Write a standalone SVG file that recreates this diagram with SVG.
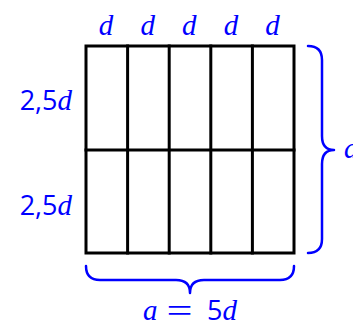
<svg xmlns="http://www.w3.org/2000/svg" width="353" height="324" viewBox="0 0 353 324">
<style>
.grid{fill:none;stroke:#000;stroke-width:3;stroke-linecap:square}
.brace{fill:none;stroke:#0000ff;stroke-width:2.5;stroke-linecap:round;stroke-linejoin:round}
.t{fill:#0000ff;font-family:"Liberation Serif","DejaVu Serif",serif;font-size:29px}
.i{font-style:italic}
.s{font-family:"Open Sans","Liberation Sans",sans-serif;font-style:normal;font-size:27px}
</style>
<rect width="353" height="324" fill="#fff"/>
<g id="grid">
<rect class="grid" x="86" y="46" width="208" height="207"/>
<line class="grid" x1="127.6" y1="46" x2="127.6" y2="253"/>
<line class="grid" x1="169.2" y1="46" x2="169.2" y2="253"/>
<line class="grid" x1="210.8" y1="46" x2="210.8" y2="253"/>
<line class="grid" x1="252.4" y1="46" x2="252.4" y2="253"/>
<line class="grid" x1="86" y1="150" x2="294" y2="150"/>
</g>
<g id="connectors">
<path class="brace" d="M86,266 Q86,280 100,280 L176,280 Q190,280 190,293 Q190,280 204,280 L280,280 Q294,280 294,266"/>
<path class="brace" d="M308,46 Q322,46 322,60 L322,136 Q322,150 334,150 Q322,150 322,164 L322,239 Q322,253 308,253"/>
</g>
<g id="labels-top">
<text class="t i" x="106" y="35" text-anchor="middle">d</text>
<text class="t i" x="147.7" y="35" text-anchor="middle">d</text>
<text class="t i" x="189.3" y="35" text-anchor="middle">d</text>
<text class="t i" x="231" y="35" text-anchor="middle">d</text>
<text class="t i" x="272.6" y="35" text-anchor="middle">d</text>
</g>
<g id="labels-left">
<text class="t" x="72" y="110" text-anchor="end"><tspan class="s">2,5</tspan><tspan class="i">d</tspan></text>
<text class="t" x="72" y="215" text-anchor="end"><tspan class="s">2,5</tspan><tspan class="i">d</tspan></text>
</g>
<g id="label-bottom">
<text class="t i" x="143" y="320">a</text>
<text class="t" transform="translate(179.5,322) scale(1.4,1)" x="0" y="0" text-anchor="middle" style="font-size:33px">=</text>
<text class="t" x="237" y="320" text-anchor="end"><tspan class="s">5</tspan><tspan class="i">d</tspan></text>
</g>
<g id="label-right">
<text class="t i" x="344" y="158">a</text>
</g>
</svg>
